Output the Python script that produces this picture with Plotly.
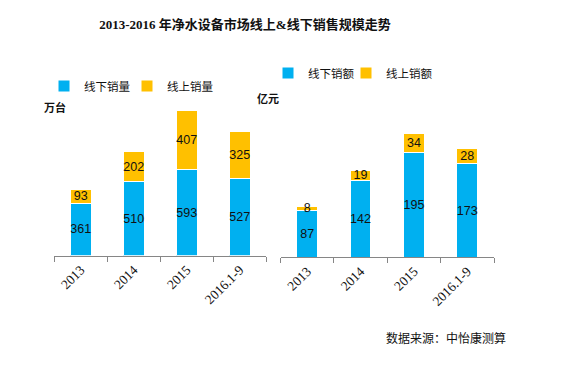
import plotly.graph_objects as go

categories = ["2013", "2014", "2015", "2016.1-9"]
offline_units = [361, 510, 593, 527]
online_units = [93, 202, 407, 325]
offline_sales = [87, 142, 195, 173]
online_sales = [8, 19, 34, 28]

BLUE = "#00B0F0"
YELLOW = "#FFC000"
W, H = 563, 366

def px_x(x):
    return x / W

def px_y(y):
    return 1 - y / H

fig = go.Figure()
lbl_font = dict(family="Liberation Sans, Arial", size=12.5, color="#111")

def add_bar(x, y, name, color, xa, ya, legend):
    fig.add_trace(go.Bar(
        x=x, y=y, name=name, xaxis=xa, yaxis=ya, legend=legend,
        marker=dict(color=color, line=dict(color="white", width=1)),
        text=[str(v) for v in y], textposition="inside", insidetextanchor="middle",
        textfont=lbl_font, textangle=0, width=0.39, cliponaxis=False,
        hoverinfo="skip",
    ))

add_bar(categories, offline_units, "线下销量", BLUE, "x", "y", "legend")
add_bar(categories, online_units, "线上销量", YELLOW, "x", "y", "legend2")
add_bar(categories, offline_sales, "线下销额", BLUE, "x2", "y2", "legend3")
add_bar(categories, online_sales, "线上销额", YELLOW, "x2", "y2", "legend4")

axis_common = dict(
    type="category", tickson="boundaries", ticks="outside", ticklen=5,
    tickcolor="#868686", showline=True, linecolor="#868686", linewidth=1,
    showgrid=False, tickangle=-45, range=[-0.5, 3.5],
    tickfont=dict(family="Liberation Serif, Times New Roman", size=13.5, color="#111"),
)

leg_font = dict(family="Noto Sans CJK SC", size=11.5, color="#111")

def legend_at(text_x, y):
    # plotly puts the legend text 40 px right of the legend's left edge
    return dict(orientation="h", x=px_x(text_x - 40), y=px_y(y), xanchor="left",
                yanchor="middle", font=leg_font, bgcolor="rgba(0,0,0,0)",
                borderwidth=0)

top_px = 100
fig.update_layout(
    width=W, height=H, margin=dict(l=0, r=0, t=0, b=0),
    paper_bgcolor="white", plot_bgcolor="white",
    barmode="stack", showlegend=True,
    uniformtext=dict(minsize=12.5, mode="show"),
    xaxis=dict(domain=[px_x(54.3), px_x(266.3)], anchor="y", **axis_common),
    yaxis=dict(domain=[px_y(255.7), px_y(top_px)], range=[0, (255.7 - top_px) / 0.1457],
               visible=False, anchor="x"),
    xaxis2=dict(domain=[px_x(280.5), px_x(494)], anchor="y2", **axis_common),
    yaxis2=dict(domain=[px_y(257.3), px_y(top_px)], range=[0, (257.3 - top_px) / 0.54],
                visible=False, anchor="x2"),
    legend=legend_at(84, 86),
    legend2=legend_at(167, 86),
    legend3=legend_at(308, 73),
    legend4=legend_at(386, 73),
    title=dict(text="<b>2013-2016 年净水设备市场线上&线下销售规模走势</b>",
               x=px_x(245), y=px_y(24), xanchor="center", yanchor="middle",
               font=dict(family="Liberation Serif, Noto Sans CJK SC", size=13, color="#111")),
    annotations=[
        dict(text="<b>万台</b>", x=px_x(55), y=px_y(107), xref="paper", yref="paper",
             xanchor="center", yanchor="middle", showarrow=False,
             font=dict(family="Noto Sans CJK SC", size=11, color="#111")),
        dict(text="<b>亿元</b>", x=px_x(268), y=px_y(98), xref="paper", yref="paper",
             xanchor="center", yanchor="middle", showarrow=False,
             font=dict(family="Noto Sans CJK SC", size=11, color="#111")),
        dict(text="数据来源：中怡康测算", x=px_x(446), y=px_y(337), xref="paper", yref="paper",
             xanchor="center", yanchor="middle", showarrow=False,
             font=dict(family="Noto Sans CJK SC", size=12, color="#111")),
    ],
)

fig.write_html("out.html", config={"displayModeBar": False},
               post_script="document.body.style.margin='0px';")
